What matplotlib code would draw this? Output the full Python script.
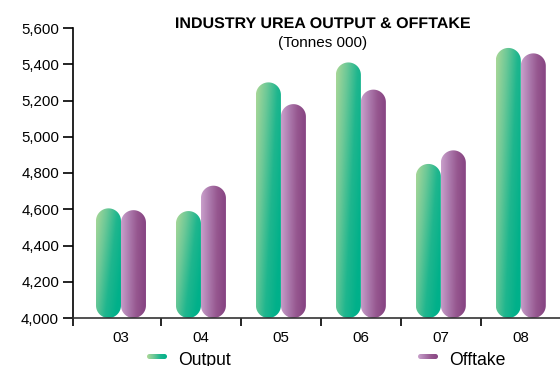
import numpy as np
import matplotlib
matplotlib.use('Agg')
import matplotlib.pyplot as plt
from matplotlib.patches import Polygon, PathPatch
from matplotlib.colors import LinearSegmentedColormap
from matplotlib.ticker import FuncFormatter, FixedLocator
from matplotlib.textpath import TextPath
from matplotlib.font_manager import FontProperties
from matplotlib.transforms import Affine2D, IdentityTransform

years = ['03', '04', '05', '06', '07', '08']
output = [4605, 4590, 5300, 5410, 4850, 5490]
offtake = [4595, 4730, 5180, 5260, 4925, 5460]

green = LinearSegmentedColormap.from_list('green', ['#abd898', '#6cc897', '#1fb68e', '#00b08a'])
purple = LinearSegmentedColormap.from_list('purple', ['#c9a0cb', '#ad7bae', '#96578f', '#874583'])

plt.rcParams['font.family'] = ['Liberation Sans', 'DejaVu Sans']

W, H = 560, 366
fig = plt.figure(figsize=(W / 100, H / 100), dpi=100)
ax = fig.add_axes([73 / W, 1 - 318 / H, 1 - 73 / W, (318 - 28) / H])
ax.set_xlim(-0.6, 5.49)
ax.set_ylim(4000, 5600)

# data units per pixel, so the rounded caps come out circular
fig.canvas.draw()
p0 = ax.transData.transform((0, 4000))
p1 = ax.transData.transform((1, 5000))
xu = 1 / (p1[0] - p0[0])
yu = 1000 / (p1[1] - p0[1])


def pill(ax, x0, w, y0, y1, cmap, a, b):
    r = w / 2
    ry = r * yu / xu
    th = np.linspace(0, np.pi, 40)
    top = np.column_stack([x0 + r + r * np.cos(th), y1 - ry + ry * np.sin(th)])
    bot = np.column_stack([x0 + r - r * np.cos(th), y0 + ry - ry * np.sin(th)])
    shape = Polygon(np.vstack([top, bot]), closed=True, transform=ax.transData,
                    facecolor='none', edgecolor='none')
    ax.add_patch(shape)
    gx, gy = np.meshgrid(np.linspace(0, 1, 60), np.linspace(0, 1, 200))
    # row 0 is the top of the bar (origin='upper')
    grad = np.clip(gx * a + gy * b, 0, 1)
    im = ax.imshow(grad, cmap=cmap, extent=(x0, x0 + w, y0, y1), origin='upper',
                   aspect='auto', interpolation='bilinear', zorder=2)
    im.set_clip_path(shape)


w = 25 / 80
x = np.arange(len(years))
for i in x:
    pill(ax, i - w, w, 4000, output[i], green, 0.75, 0.4)
    pill(ax, i, w, 4000, offtake[i], purple, 1.0, 0.05)

ax.set_xlim(-0.6, 5.49)
ax.set_ylim(4000, 5600)

for s in ['top', 'right']:
    ax.spines[s].set_visible(False)
ax.spines['left'].set_linewidth(1.2)
ax.spines['bottom'].set_linewidth(1.2)
ax.spines['bottom'].set_color('#333333')
ax.spines['bottom'].set_zorder(3)

ax.set_yticks(np.arange(4000, 5601, 200))
ax.yaxis.set_major_formatter(FuncFormatter(lambda v, p: f'{int(v):,}'))
ax.tick_params(axis='y', length=7, width=1.2, labelsize=10.8, pad=3)

ax.set_xticks(x)
ax.set_xticklabels(years)
ax.tick_params(axis='x', which='major', length=0, labelsize=10.8, pad=9)
ax.xaxis.set_minor_locator(FixedLocator([-0.6] + list(x[:-1] + 0.5)))
ax.tick_params(axis='x', which='minor', length=6, width=1.2, direction='out')

# condensed bold title: squeeze the glyph outlines horizontally
title = 'INDUSTRY UREA OUTPUT & OFFTAKE'
tp = TextPath((0, 0), title, size=15.4, prop=FontProperties(family='Liberation Sans', weight='bold'))
ext = tp.get_extents()
sx = 294 / ext.width
tr = Affine2D().translate(-ext.x0, 0).scale(sx, 1).translate(323 - 147, H - 28)
fig.patches.append(PathPatch(tr.transform_path(tp), transform=IdentityTransform(),
                             facecolor='black', edgecolor='none'))
fig.text(323 / W, 1 - 43 / H, '(Tonnes 000)', ha='center', va='center', fontsize=11)

# legend keys drawn as small horizontal pills
for lx, name, cmap in [(147, 'Output', green), (418, 'Offtake', purple)]:
    kax = fig.add_axes([lx / W, 1 - 359 / H, 20 / W, 5 / H])
    kax.axis('off')
    kax.set_xlim(0, 20)
    kax.set_ylim(0, 5)
    th = np.linspace(-np.pi / 2, np.pi / 2, 20)
    right = np.column_stack([17.5 + 2.5 * np.cos(th), 2.5 + 2.5 * np.sin(th)])
    left = np.column_stack([2.5 - 2.5 * np.cos(th), 2.5 - 2.5 * np.sin(th)])
    shape = Polygon(np.vstack([right, left]), closed=True, facecolor='none', edgecolor='none')
    kax.add_patch(shape)
    gx = np.tile(np.linspace(0, 1, 40), (5, 1))
    im = kax.imshow(gx, cmap=cmap, extent=(0, 20, 0, 5), aspect='auto')
    im.set_clip_path(shape)
    fig.text((lx + 31) / W, 1 - 365 / H, name, ha='left', va='baseline', fontsize=12.7)

fig.savefig('out.png', dpi=100)
